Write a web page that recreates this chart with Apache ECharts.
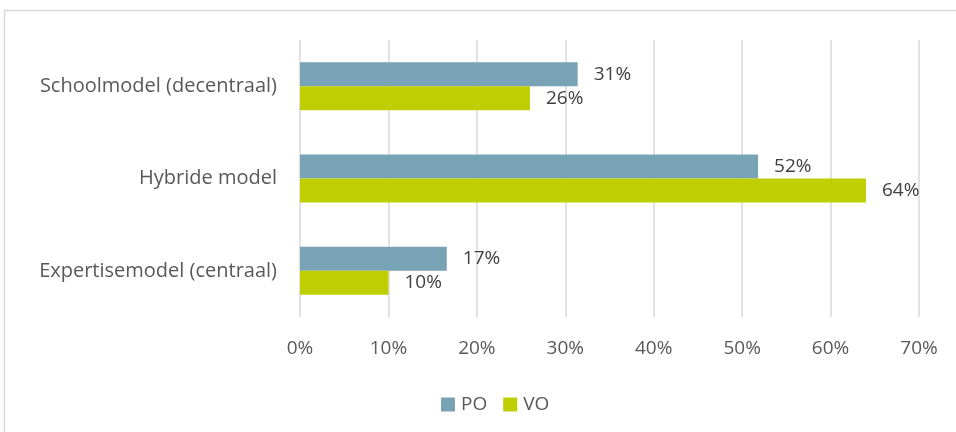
<!DOCTYPE html>
<html><head><meta charset="utf-8">
<script src="https://cdn.jsdelivr.net/npm/echarts@6/dist/echarts.min.js"></script>
<style>html,body{margin:0;padding:0;background:#fff}#c{width:956px;height:432px}</style>
</head><body><div id="c"></div>
<script>
const categories = ["Schoolmodel (decentraal)", "Hybride model", "Expertisemodel (centraal)"];
const seriesNames = ["PO", "VO"];
const poValues = [31.4, 51.8, 16.6];
const voValues = [26.0, 64.0, 10.0];
const xTicks = [0, 10, 20, 30, 40, 50, 60, 70];

const font = "'Open Sans', sans-serif";
const chart = echarts.init(document.getElementById('c'), null, {renderer: 'canvas'});
chart.setOption({
  animation: false,
  backgroundColor: '#fff',
  graphic: [{type: 'rect', silent: true, shape: {x: 4.5, y: 10.5, width: 1000, height: 500}, style: {fill: 'none', stroke: '#d9d9d9', lineWidth: 1.5}}],
  grid: {left: 300, right: 37, top: 40, bottom: 115, containLabel: false},
  legend: {
    data: seriesNames, top: 390, left: 436, itemWidth: 14, itemHeight: 14, itemGap: 16,
    icon: 'rect', textStyle: {fontFamily: font, fontSize: 19, color: '#595959', padding: [0,0,0,1]}
  },
  xAxis: {
    type: 'value', min: xTicks[0], max: xTicks[xTicks.length-1], interval: 10,
    axisLine: {show: false}, axisTick: {show: false},
    splitLine: {lineStyle: {color: '#d9d9d9', width: 1.5}},
    axisLabel: {formatter: v => v + '%', fontFamily: font, fontSize: 19, color: '#595959', margin: 22}
  },
  yAxis: {
    type: 'category', data: categories, inverse: true,
    axisLine: {show: false}, axisTick: {show: false},
    axisLabel: {fontFamily: font, fontSize: 20, color: '#595959', margin: 23}
  },
  series: [
    {name: 'PO', type: 'bar', data: poValues, barGap: '0%', barCategoryGap: '48%',
     itemStyle: {color: '#78A2B5'},
     label: {show: true, position: 'right', distance: 16, formatter: p => Math.round(p.value) + '%', fontFamily: font, fontSize: 19, color: '#404040'}},
    {name: 'VO', type: 'bar', data: voValues, barGap: '0%', barCategoryGap: '48%',
     itemStyle: {color: '#BFCE00'},
     label: {show: true, position: 'right', distance: 16, formatter: p => Math.round(p.value) + '%', fontFamily: font, fontSize: 19, color: '#404040'}}
  ]
});
</script></body></html>
